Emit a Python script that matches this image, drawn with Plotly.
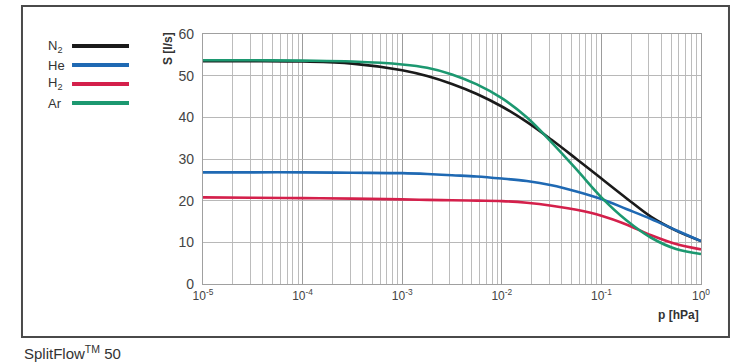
import plotly.graph_objects as go

# ---- data ----
# pressure points (hPa), shared by all series
p_vals = [1e-5, 3.16e-5, 1e-4, 3.16e-4, 1e-3, 1.78e-3, 3.16e-3, 5.62e-3, 1e-2,
          1.78e-2, 3.16e-2, 5.62e-2, 1e-1, 1.78e-1, 3.16e-1, 5.62e-1, 1.0]
s_n2 = [53.5, 53.5, 53.4, 52.9, 51.3, 49.9, 48.0, 45.6, 42.6, 38.9, 34.6, 30.0, 25.3, 20.6, 16.1, 12.8, 10.3]
s_he = [26.8, 26.8, 26.8, 26.7, 26.6, 26.4, 26.1, 25.8, 25.3, 24.7, 23.7, 22.2, 20.4, 18.0, 15.6, 12.9, 10.3]
s_h2 = [20.8, 20.7, 20.6, 20.5, 20.3, 20.2, 20.1, 20.0, 19.9, 19.5, 18.8, 17.8, 16.4, 14.3, 11.7, 9.6, 8.3]
s_ar = [53.7, 53.7, 53.6, 53.4, 52.7, 51.9, 50.3, 47.9, 44.6, 40.0, 34.0, 27.5, 20.8, 15.3, 11.1, 8.4, 7.2]

series_names = ["N<sub>2</sub>", "He", "H<sub>2</sub>", "Ar"]
series_colors = ["#1a1a1a", "#1f69b3", "#d4204b", "#1c9870"]

x_tickvals = [1e-5, 1e-4, 1e-3, 1e-2, 1e-1, 1e0]
x_ticktext = ["10<sup>-5</sup>", "10<sup>-4</sup>", "10<sup>-3</sup>", "10<sup>-2</sup>", "10<sup>-1</sup>", "10<sup>0</sup>"]
y_tickvals = [0, 10, 20, 30, 40, 50, 60]

series_values = [s_n2, s_he, s_h2, s_ar]

fig = go.Figure()
for name, color, vals in zip(series_names, series_colors, series_values):
    fig.add_trace(go.Scatter(x=p_vals, y=vals, mode="lines", name=name,
                             line=dict(color=color, width=2.6, shape="spline", smoothing=1.0),
                             showlegend=False, hoverinfo="skip"))

FONT = "Liberation Sans, Arial, sans-serif"
fig.update_layout(
    width=750, height=362,
    margin=dict(l=203, r=49, t=34, b=78),
    paper_bgcolor="white", plot_bgcolor="white",
    font=dict(family=FONT, color="#444444"),
    xaxis=dict(type="log", range=[-5, 0], tickvals=x_tickvals, ticktext=x_ticktext,
               showgrid=True, gridcolor="#9c9c9c", gridwidth=1.4,
               minor=dict(showgrid=True, gridcolor="#bcbcbc", gridwidth=1, dtick="D1"),
               showline=True, linecolor="#a0a0a0", linewidth=1.4, mirror=True,
               ticks="", tickfont=dict(size=12, color="#444444"), zeroline=False),
    yaxis=dict(range=[0, 60], tickvals=y_tickvals, showgrid=True, gridcolor="#b8b8b8", gridwidth=1,
               showline=True, linecolor="#a0a0a0", linewidth=1.4, mirror=True,
               ticks="", ticklabelstandoff=5, tickfont=dict(size=14, color="#444444"), zeroline=False),
)

# outer frame
fig.add_shape(type="rect", xref="paper", yref="paper", x0=-0.3635, x1=1.0562, y0=-0.212, y1=1.112,
              line=dict(color="#4a4a4a", width=2), fillcolor="rgba(0,0,0,0)", layer="below")

# manual legend
leg_y = [0.952, 0.876, 0.800, 0.724]
for name, color, yy in zip(series_names, series_colors, leg_y):
    fig.add_shape(type="line", xref="paper", yref="paper", x0=-0.263, x1=-0.1486, y0=yy, y1=yy,
                  line=dict(color=color, width=4))
    fig.add_annotation(xref="paper", yref="paper", x=-0.3153, y=yy, text=name, showarrow=False,
                       xanchor="left", yanchor="middle", font=dict(size=13, color="#333333"))

# axis titles
fig.add_annotation(xref="paper", yref="paper", x=-0.0703, y=0.944, text="<b>S [l/s]</b>", textangle=-90,
                   showarrow=False, xanchor="center", yanchor="middle", font=dict(size=12, color="#333333"))
fig.add_annotation(xref="paper", yref="paper", x=1.0, y=-0.124, text="<b>p [hPa]</b>",
                   showarrow=False, xanchor="right", yanchor="middle", font=dict(size=12, color="#333333"))

# caption
fig.add_annotation(xref="paper", yref="paper", x=-0.3635, y=-0.272, text="SplitFlow<sup>TM</sup> 50",
                   showarrow=False, xanchor="left", yanchor="middle", font=dict(size=15, color="#333333"))

fig.write_html("out.html", config={"displayModeBar": False},
               post_script="document.body.style.margin='0px';")
